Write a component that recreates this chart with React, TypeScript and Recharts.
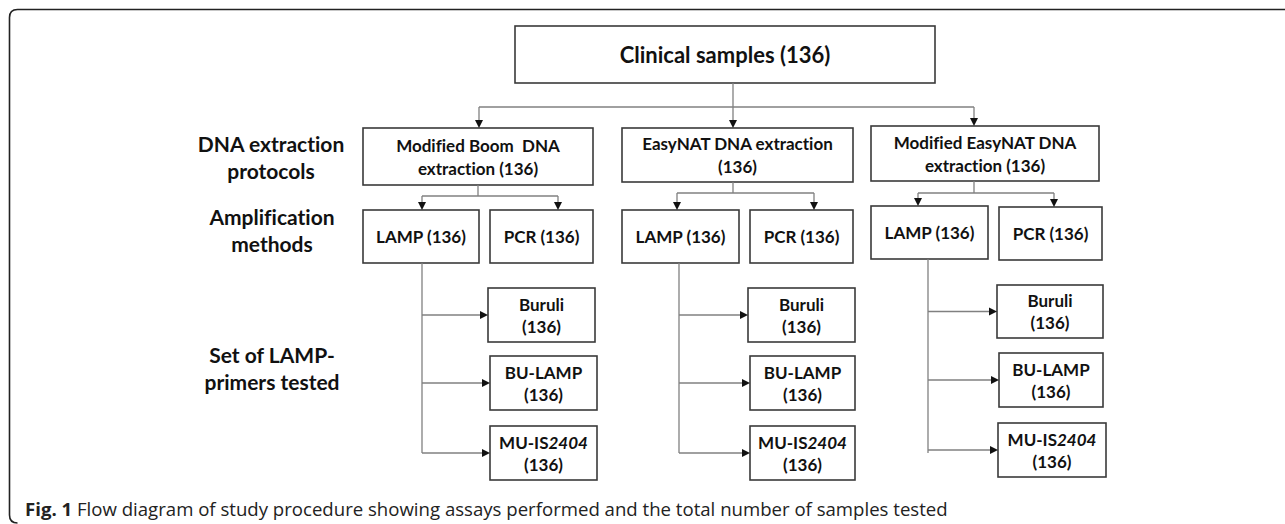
import React from 'react';
import { ComposedChart, XAxis, YAxis, ReferenceArea, ReferenceLine, ReferenceDot } from 'recharts';

const W = 1285;
const H = 524;

// diagram content
const totalSamples = 136;
const protocolLines = [
  ['Modified Boom  DNA', 'extraction'],
  ['EasyNAT DNA extraction', ''],
  ['Modified EasyNAT DNA', 'extraction'],
];
const protocolCounts = [136, 136, 136];
const amplificationMethods = ['LAMP', 'PCR'];
const amplificationCounts = [
  [136, 136],
  [136, 136],
  [136, 136],
];
const primerSets = ['Buruli', 'BU-LAMP', 'MU-IS2404'];
const primerCounts = [
  [136, 136, 136],
  [136, 136, 136],
  [136, 136, 136],
];
const stageLabels = [
  ['DNA extraction', 'protocols'],
  ['Amplification', 'methods'],
  ['Set of LAMP-', 'primers tested'],
];
const captionBold = 'Fig. 1';
const captionText = ' Flow diagram of study procedure showing assays performed and the total number of samples tested';

// layout in diagram units (x1, x2, y1, y2)
const clinicalBox = [515, 935, 26, 83];
const clinicalStem = { x: 733, bus: 107 };
const stageLabelPos = [
  { x: 271, y: 157 },
  { x: 272, y: 230 },
  { x: 272, y: 368 },
];
const columns = [
  {
    drop: 479, proto: [363, 593, 128, 185], stem: 478, bus: 196,
    lamp: [363, 479, 210, 263], lampDrop: 422, pcr: [490, 593, 210, 263], pcrDrop: 558,
    trunk: 422, trunkEnd: 453,
    primers: [[488, 595, 288, 342], [490, 597, 356, 410], [490, 597, 426, 480]],
  },
  {
    drop: 733, proto: [622, 853, 128, 182], stem: 733, bus: 193,
    lamp: [622, 739, 210, 263], lampDrop: 677, pcr: [750, 853, 210, 263], pcrDrop: 814,
    trunk: 679, trunkEnd: 453,
    primers: [[748, 855, 288, 342], [750, 855, 356, 410], [750, 855, 426, 480]],
  },
  {
    drop: 974, proto: [871, 1099, 126, 181], stem: 974, bus: 193,
    lamp: [871, 988, 206, 259], lampDrop: 918, pcr: [999, 1102, 207, 260], pcrDrop: 1054,
    trunk: 928, trunkEnd: 453,
    primers: [[997, 1103, 285, 338], [999, 1103, 353, 407], [998, 1106, 423, 477]],
  },
];

type Box = { key: string; r: number[]; lines: string[]; size: number; gap: number };
type Seg = { key: string; a: number[]; b: number[]; arrow: boolean };

const boxes: Box[] = [];
const segs: Seg[] = [];

boxes.push({ key: 'clin', r: clinicalBox, lines: [`Clinical samples (${totalSamples})`], size: 22, gap: 0 });
segs.push({ key: 'clin-stem', a: [clinicalStem.x, clinicalBox[3]], b: [clinicalStem.x, clinicalStem.bus], arrow: false });
segs.push({ key: 'clin-bus', a: [columns[0].drop, clinicalStem.bus], b: [columns[2].drop, clinicalStem.bus], arrow: false });

columns.forEach((c, i) => {
  segs.push({ key: `d${i}`, a: [c.drop, clinicalStem.bus], b: [c.drop, c.proto[2]], arrow: true });
  const [l1, l2] = protocolLines[i];
  const n = protocolCounts[i];
  boxes.push({ key: `p${i}`, r: c.proto, lines: [l1, l2 ? `${l2} (${n})` : `(${n})`], size: 17, gap: 23 });

  segs.push({ key: `s${i}`, a: [c.stem, c.proto[3]], b: [c.stem, c.bus], arrow: false });
  segs.push({ key: `b${i}`, a: [c.lampDrop, c.bus], b: [c.pcrDrop, c.bus], arrow: false });
  segs.push({ key: `la${i}`, a: [c.lampDrop, c.bus], b: [c.lampDrop, c.lamp[2]], arrow: true });
  segs.push({ key: `pa${i}`, a: [c.pcrDrop, c.bus], b: [c.pcrDrop, c.pcr[2]], arrow: true });
  boxes.push({ key: `lamp${i}`, r: c.lamp, lines: [`${amplificationMethods[0]} (${amplificationCounts[i][0]})`], size: 17, gap: 0 });
  boxes.push({ key: `pcr${i}`, r: c.pcr, lines: [`${amplificationMethods[1]} (${amplificationCounts[i][1]})`], size: 17, gap: 0 });

  segs.push({ key: `t${i}`, a: [c.trunk, c.lamp[3]], b: [c.trunk, c.trunkEnd], arrow: false });
  c.primers.forEach((r, j) => {
    const my = (r[2] + r[3]) / 2;
    segs.push({ key: `pr${i}-${j}`, a: [c.trunk, my], b: [r[0], my], arrow: true });
    boxes.push({ key: `pb${i}-${j}`, r, lines: [primerSets[j], `(${primerCounts[i][j]})`], size: 17, gap: 22 });
  });
});

const FONT = 'Lato, "Open Sans", sans-serif';
const textStyle: React.CSSProperties = { whiteSpace: 'pre', fontVariantLigatures: 'none' };

const renderLine = (line: string) => {
  const m = line.match(/^(MU-IS)(\d+)$/);
  if (m) {
    return (
      <>
        <tspan>{m[1]}</tspan>
        <tspan fontStyle="italic">{m[2]}</tspan>
      </>
    );
  }
  return line;
};

const boxShape = (b: Box) => (p: any) => {
  const cx = p.x + p.width / 2;
  const cy = p.y + p.height / 2;
  const n = b.lines.length;
  return (
    <g>
      <rect x={p.x} y={p.y} width={p.width} height={p.height} fill="#fff" stroke="#3a3a3a" strokeWidth={1.6} />
      {b.lines.map((ln, k) => (
        <text
          key={k}
          x={cx}
          y={cy + (k - (n - 1) / 2) * b.gap}
          textAnchor="middle"
          dominantBaseline="central"
          fontFamily={FONT}
          fontWeight={700}
          fontSize={b.size}
          fill="#111"
          style={textStyle}
        >
          {renderLine(ln)}
        </text>
      ))}
    </g>
  );
};

const segShape = (s: Seg) => (p: any) => {
  const { x1, y1, x2, y2 } = p;
  const dx = x2 - x1;
  const dy = y2 - y1;
  const len = Math.hypot(dx, dy) || 1;
  const ux = dx / len;
  const uy = dy / len;
  const ah = 8;
  const aw = 4;
  const bx = x2 - ux * ah;
  const by = y2 - uy * ah;
  return (
    <g>
      <line x1={x1} y1={y1} x2={s.arrow ? bx : x2} y2={s.arrow ? by : y2} stroke="#808080" strokeWidth={1.3} />
      {s.arrow && (
        <polygon
          points={`${x2},${y2} ${bx - uy * aw},${by + ux * aw} ${bx + uy * aw},${by - ux * aw}`}
          fill="#111"
        />
      )}
    </g>
  );
};

const frameShape = (p: any) => {
  const l = p.x;
  const t = p.y;
  const r = 8;
  const b = p.y + p.height;
  return (
    <path
      d={`M ${p.x + p.width} ${t} H ${l + r} Q ${l} ${t} ${l} ${t + r} V ${b - r} Q ${l} ${b} ${l + r} ${b}`}
      fill="none"
      stroke="#222"
      strokeWidth={1.6}
    />
  );
};

const stageShape = (lines: string[]) => (p: any) => (
  <g>
    {lines.map((ln, k) => (
      <text
        key={k}
        x={p.cx}
        y={p.cy + (k - 0.5) * 27}
        textAnchor="middle"
        dominantBaseline="central"
        fontFamily={FONT}
        fontWeight={700}
        fontSize={21}
        fill="#111"
        style={textStyle}
      >
        {ln}
      </text>
    ))}
  </g>
);

const captionShape = (p: any) => (
  <text
    x={p.cx}
    y={p.cy}
    dominantBaseline="central"
    fontFamily='"Open Sans", sans-serif'
    fontSize={18.6}
    fill="#222"
    style={textStyle}
  >
    <tspan fontWeight={700}>{captionBold}</tspan>
    <tspan fontWeight={400}>{captionText}</tspan>
  </text>
);

export default function App() {
  return (
    <div style={{ position: 'absolute', left: 0, top: 0, width: W, height: H, background: '#fff' }}>
      <ComposedChart width={W} height={H} margin={{ top: 0, right: 0, bottom: 0, left: 0 }}>
        <XAxis type="number" dataKey="x" domain={[0, W]} hide allowDataOverflow />
        <YAxis type="number" domain={[0, H]} reversed hide allowDataOverflow />
        <ReferenceArea x1={9.5} x2={W} y1={9.5} y2={523} ifOverflow="visible" shape={frameShape} />
        {segs.map((s) => (
          <ReferenceLine
            key={s.key}
            segment={[{ x: s.a[0], y: s.a[1] }, { x: s.b[0], y: s.b[1] }]}
            ifOverflow="visible"
            shape={segShape(s)}
          />
        ))}
        {boxes.map((b) => (
          <ReferenceArea
            key={b.key}
            x1={b.r[0]}
            x2={b.r[1]}
            y1={b.r[2]}
            y2={b.r[3]}
            ifOverflow="visible"
            shape={boxShape(b)}
          />
        ))}
        {stageLabels.map((lines, i) => (
          <ReferenceDot
            key={`st${i}`}
            x={stageLabelPos[i].x}
            y={stageLabelPos[i].y}
            ifOverflow="visible"
            shape={stageShape(lines)}
          />
        ))}
        <ReferenceDot x={25} y={508} ifOverflow="visible" shape={captionShape} />
      </ComposedChart>
    </div>
  );
}
